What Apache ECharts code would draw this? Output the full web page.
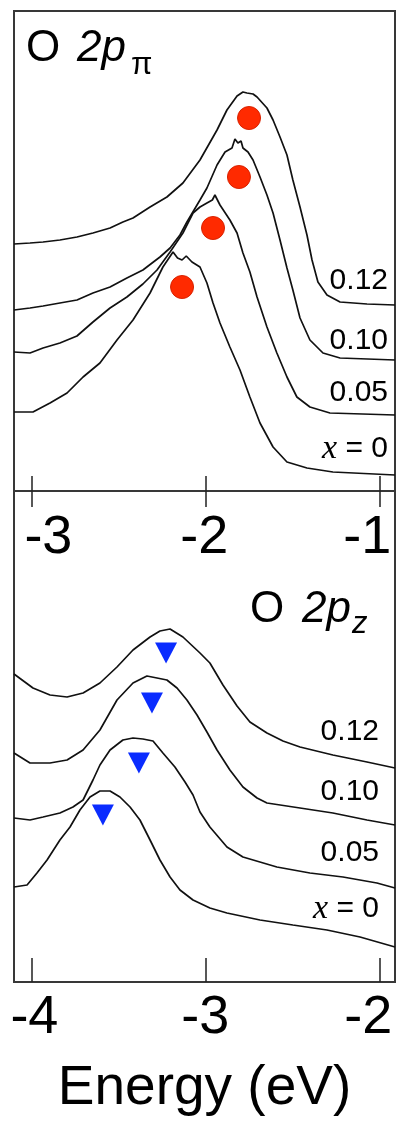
<!DOCTYPE html>
<html>
<head>
<meta charset="utf-8">
<script src="https://cdn.jsdelivr.net/npm/echarts@6/dist/echarts.min.js"></script>
<style>
html,body{margin:0;padding:0;background:#fff;}
#chart{width:396px;height:1123px;}
</style>
</head>
<body>
<div id="chart"></div>
<script>
// ---------- DATA (energy in eV, intensity in arb. units incl. vertical offset) ----------
// Top panel: O 2p_pi
const piTicks = [-3, -2, -1];
const piX012 = [[-3.100,247],[-3.008,248],[-2.933,249],[-2.836,251],[-2.738,254],[-2.646,258],[-2.548,263],[-2.474,269],[-2.416,273],[-2.318,284],[-2.221,294],[-2.129,308],[-2.031,331],[-1.933,361],[-1.876,381],[-1.818,395],[-1.784,399],[-1.761,398],[-1.726,397],[-1.703,394],[-1.646,383],[-1.611,371],[-1.571,354],[-1.531,336],[-1.497,311],[-1.456,284],[-1.416,256],[-1.387,231],[-1.353,209],[-1.301,196],[-1.226,189],[-1.071,187],[-0.910,186]];
const piX010 = [[-3.100,181],[-3.008,183],[-2.933,185],[-2.836,188],[-2.738,191],[-2.646,198],[-2.548,204],[-2.451,213],[-2.359,221],[-2.261,234],[-2.203,243],[-2.146,256],[-2.106,269],[-2.031,291],[-1.991,303],[-1.933,326],[-1.887,339],[-1.847,343],[-1.830,352],[-1.813,348],[-1.795,350],[-1.784,343],[-1.755,339],[-1.726,331],[-1.686,314],[-1.646,296],[-1.611,278],[-1.571,251],[-1.531,223],[-1.497,201],[-1.456,173],[-1.399,151],[-1.324,138],[-1.226,133],[-0.910,131]];
const piX005 = [[-3.100,139],[-3.008,138],[-2.933,143],[-2.836,148],[-2.738,155],[-2.646,169],[-2.548,183],[-2.451,194],[-2.359,207],[-2.278,221],[-2.203,239],[-2.129,258],[-2.071,278],[-2.031,284],[-1.991,288],[-1.960,291],[-1.945,296],[-1.916,286],[-1.859,271],[-1.818,258],[-1.784,238],[-1.744,219],[-1.703,194],[-1.646,164],[-1.589,138],[-1.531,114],[-1.474,94],[-1.399,84],[-1.284,78],[-0.910,76]];
const piX000 = [[-3.100,79],[-2.991,79],[-2.893,88],[-2.795,98],[-2.703,114],[-2.606,128],[-2.508,151],[-2.416,171],[-2.318,198],[-2.244,224],[-2.186,239],[-2.160,233],[-2.134,231],[-2.110,235],[-2.077,229],[-2.031,224],[-1.991,208],[-1.956,188],[-1.916,168],[-1.859,144],[-1.801,121],[-1.744,94],[-1.686,68],[-1.611,44],[-1.531,29],[-1.416,23],[-1.267,19],[-0.910,16]];
const piPeaks = [[-1.749,373],[-1.807,314],[-1.956,263],[-2.134,204]];

// Bottom panel: O 2p_z
const zTicks = [-4, -3, -2];
const zX012 = [[-4.100,308],[-3.991,294],[-3.893,287],[-3.795,285],[-3.703,289],[-3.606,299],[-3.508,315],[-3.416,332],[-3.318,345],[-3.261,351],[-3.203,353],[-3.129,345],[-3.031,329],[-2.974,319],[-2.899,297],[-2.818,276],[-2.744,260],[-2.646,249],[-2.554,241],[-2.456,235],[-2.267,227],[-2.071,220],[-1.910,214]];
const zX010 = [[-4.100,229],[-4.008,219],[-3.893,219],[-3.795,222],[-3.703,232],[-3.606,252],[-3.508,282],[-3.416,299],[-3.336,306],[-3.278,304],[-3.221,302],[-3.163,294],[-3.106,282],[-3.048,267],[-2.991,250],[-2.933,232],[-2.859,212],[-2.784,195],[-2.703,184],[-2.646,179],[-2.456,174],[-2.267,169],[-2.071,162],[-1.910,157]];
const zX005 = [[-4.100,164],[-4.008,162],[-3.933,165],[-3.836,169],[-3.761,175],[-3.703,182],[-3.646,202],[-3.606,217],[-3.548,232],[-3.474,242],[-3.416,244],[-3.359,243],[-3.301,241],[-3.244,229],[-3.175,215],[-3.117,200],[-3.071,187],[-3.031,170],[-2.974,155],[-2.876,135],[-2.784,125],[-2.589,115],[-2.399,109],[-2.209,105],[-2.014,99],[-1.910,94]];
const zX000 = [[-4.100,95],[-4.025,97],[-3.968,109],[-3.910,122],[-3.836,142],[-3.778,155],[-3.721,172],[-3.663,185],[-3.606,191],[-3.548,191],[-3.491,185],[-3.433,175],[-3.376,162],[-3.318,142],[-3.261,122],[-3.203,105],[-3.146,92],[-3.071,82],[-2.974,74],[-2.876,69],[-2.686,62],[-2.497,57],[-2.301,52],[-2.111,45],[-1.910,35]];
const zPeaks = [[-3.226,329],[-3.307,279],[-3.382,219],[-3.589,167]];

const curveLabels = ['0.12', '0.10', '0.05', 'x = 0'];
const xName = 'Energy (eV)';

// ---------- CHART ----------
const FONT = 'Liberation Sans, Arial, sans-serif';
const chart = echarts.init(document.getElementById('chart'), null, {renderer: 'canvas'});

function lineSeries(data, xi) {
  return {type: 'line', data: data, xAxisIndex: xi, yAxisIndex: xi < 1 ? 0 : 1,
    showSymbol: false, symbol: 'none', smooth: false, animation: false,
    lineStyle: {color: '#111', width: 1.7}, z: 3};
}
const tickLab = (size) => ({fontFamily: FONT, fontSize: size, color: '#000'});

const option = {
  animation: false,
  backgroundColor: '#fff',
  grid: [
    {left: 14, top: 11, width: 381, height: 480, show: true, borderColor: '#383838', borderWidth: 2, backgroundColor: 'transparent', outerBoundsMode: 'none'},
    {left: 14, top: 491, width: 381, height: 491, show: true, borderColor: '#383838', borderWidth: 2, backgroundColor: 'transparent', outerBoundsMode: 'none'}
  ],
  xAxis: [
    {type: 'value', gridIndex: 0, position: 'bottom', min: -3.1, max: -0.91,
      splitLine: {show: false},
      axisLine: {show: true, onZero: false, lineStyle: {color: '#383838', width: 2}},
      axisTick: {show: true, inside: true, length: 15, customValues: piTicks, lineStyle: {color: '#222', width: 1.5}},
      axisLabel: {show: true, customValues: piTicks, margin: 20, ...tickLab(54),
        formatter: function (v) {
          if (v === piTicks[0]) return '{l|' + v + '}';
          if (v === piTicks[2]) return '{r|' + v + '}';
          return '{c|' + v + '}';
        },
        rich: {
          l: {...tickLab(54), padding: [0, 0, 0, 34]},
          c: {...tickLab(54), padding: [0, 2, 0, 0]},
          r: {...tickLab(54), padding: [0, 24, 0, 0]}
        }}
    },
    {type: 'value', gridIndex: 1, position: 'bottom', min: -4.1, max: -1.91,
      name: xName, nameLocation: 'middle', nameGap: 79, nameMoveOverlap: false,
      nameTextStyle: {fontFamily: FONT, fontSize: 55, color: '#000'},
      splitLine: {show: false},
      axisLine: {show: true, onZero: false, lineStyle: {color: '#383838', width: 2}},
      axisTick: {show: true, inside: true, length: 24, customValues: zTicks, lineStyle: {color: '#222', width: 1.5}},
      axisLabel: {show: true, customValues: zTicks, margin: 9, ...tickLab(54),
        formatter: function (v) {
          if (v === zTicks[0]) return '{l|' + v + '}';
          if (v === zTicks[2]) return '{r|' + v + '}';
          return '{c|' + v + '}';
        },
        rich: {
          l: {...tickLab(54), padding: [0, 0, 0, 6]},
          c: {...tickLab(54)},
          r: {...tickLab(54), padding: [0, 22, 0, 0]}
        }}
    },
    {type: 'value', gridIndex: 1, position: 'top', min: -4.1, max: -1.91,
      splitLine: {show: false},
      axisLine: {show: true, onZero: false, lineStyle: {color: '#383838', width: 2}},
      axisTick: {show: true, inside: true, length: 16, customValues: zTicks, lineStyle: {color: '#222', width: 1.5}},
      axisLabel: {show: false}
    }
  ],
  yAxis: [
    {type: 'value', gridIndex: 0, min: 0, max: 480, show: false},
    {type: 'value', gridIndex: 1, min: 0, max: 491, show: false}
  ],
  series: [
    lineSeries(piX012, 0), lineSeries(piX010, 0), lineSeries(piX005, 0), lineSeries(piX000, 0),
    lineSeries(zX012, 1), lineSeries(zX010, 1), lineSeries(zX005, 1), lineSeries(zX000, 1),
    {type: 'scatter', xAxisIndex: 0, yAxisIndex: 0, data: piPeaks, symbol: 'circle', symbolSize: 23,
      itemStyle: {color: '#ff2a00', borderColor: '#d82200', borderWidth: 1, opacity: 1}, z: 5, animation: false},
    {type: 'scatter', xAxisIndex: 1, yAxisIndex: 1, data: zPeaks, symbol: 'triangle', symbolSize: [22, 21], symbolRotate: 180,
      itemStyle: {color: '#0a2cff', opacity: 1}, z: 5, animation: false}
  ],
  graphic: [
    {type: 'text', x: 26, y: 49, style: {text: 'O', fontFamily: FONT, fontSize: 44, fill: '#000', align: 'left', verticalAlign: 'middle'}},
    {type: 'text', x: 77, y: 49, style: {text: '2p', fontFamily: FONT, fontStyle: 'italic', fontSize: 44, fill: '#000', align: 'left', verticalAlign: 'middle'}},
    {type: 'text', x: 131, y: 65, style: {text: 'π', fontFamily: FONT, fontSize: 31, fill: '#000', align: 'left', verticalAlign: 'middle'}},

    {type: 'text', x: 250, y: 610, style: {text: 'O', fontFamily: FONT, fontSize: 44, fill: '#000', align: 'left', verticalAlign: 'middle'}},
    {type: 'text', x: 302, y: 610, style: {text: '2p', fontFamily: FONT, fontStyle: 'italic', fontSize: 44, fill: '#000', align: 'left', verticalAlign: 'middle'}},
    {type: 'text', x: 352, y: 624, style: {text: 'z', fontFamily: FONT, fontStyle: 'italic', fontSize: 31, fill: '#000', align: 'left', verticalAlign: 'middle'}},

    {type: 'text', x: 388, y: 281, style: {text: curveLabels[0], fontFamily: FONT, fontSize: 30, fill: '#000', align: 'right', verticalAlign: 'middle'}},
    {type: 'text', x: 388, y: 341, style: {text: curveLabels[1], fontFamily: FONT, fontSize: 30, fill: '#000', align: 'right', verticalAlign: 'middle'}},
    {type: 'text', x: 388, y: 393, style: {text: curveLabels[2], fontFamily: FONT, fontSize: 30, fill: '#000', align: 'right', verticalAlign: 'middle'}},
    {type: 'text', x: 388, y: 449, style: {text: '{i|x}{n| = 0}', align: 'right', verticalAlign: 'middle',
      rich: {i: {fontFamily: 'Liberation Serif, serif', fontStyle: 'italic', fontSize: 34, color: '#000'}, n: {fontFamily: FONT, fontSize: 30, color: '#000'}}}},

    {type: 'text', x: 379, y: 732, style: {text: curveLabels[0], fontFamily: FONT, fontSize: 30, fill: '#000', align: 'right', verticalAlign: 'middle'}},
    {type: 'text', x: 379, y: 792, style: {text: curveLabels[1], fontFamily: FONT, fontSize: 30, fill: '#000', align: 'right', verticalAlign: 'middle'}},
    {type: 'text', x: 379, y: 853, style: {text: curveLabels[2], fontFamily: FONT, fontSize: 30, fill: '#000', align: 'right', verticalAlign: 'middle'}},
    {type: 'text', x: 379, y: 909, style: {text: '{i|x}{n| = 0}', align: 'right', verticalAlign: 'middle',
      rich: {i: {fontFamily: 'Liberation Serif, serif', fontStyle: 'italic', fontSize: 34, color: '#000'}, n: {fontFamily: FONT, fontSize: 30, color: '#000'}}}}
  ]
};
chart.setOption(option);
</script>
</body>
</html>
